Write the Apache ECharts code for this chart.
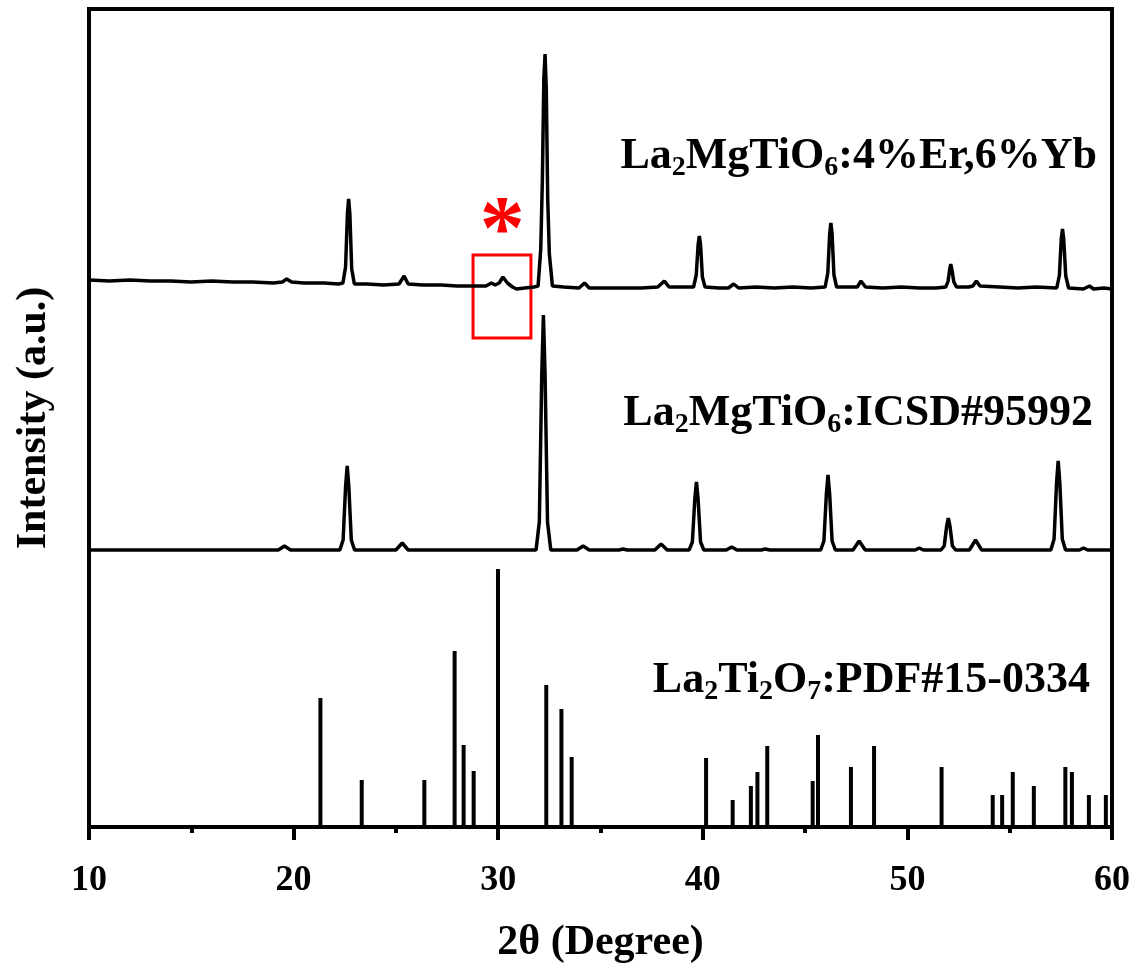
<!DOCTYPE html>
<html>
<head>
<meta charset="utf-8">
<script src="https://cdn.jsdelivr.net/npm/echarts@6/dist/echarts.min.js"></script>
<style>
  html, body { margin: 0; padding: 0; background: #fff; }
  #chart { width: 1139px; height: 970px; }
</style>
</head>
<body>
<div id="chart"></div>
<script>
// 2θ range of the x axis
const xMin = 10;
const xMax = 60;
const xStep = 10;

// measured pattern La2MgTiO6:4%Er,6%Yb  [2θ, intensity above its own offset]
const sampleOffset = 538;
const sample = [
  [10, 9], [11, 8], [12, 9], [13, 8], [14, 8], [15, 7], [16, 8], [17, 7], [18, 7], [19, 6],
  [19.45, 7], [19.66, 10], [19.9, 7], [20.5, 6], [21.5, 6], [22.2, 5],
  [22.41, 6], [22.54, 22], [22.63, 75], [22.69, 90], [22.75, 75], [22.84, 20], [22.97, 5],
  [23.6, 5], [24.4, 4], [25.15, 5], [25.4, 13], [25.6, 5], [26.3, 4], [27.2, 4], [28.0, 3],
  [28.8, 3], [29.4, 3], [29.67, 6], [29.85, 4], [30.05, 6], [30.23, 12], [30.45, 6], [30.7, 2],
  [30.9, 0], [31.3, 1], [31.75, 2],
  [31.95, 3], [32.08, 40], [32.16, 110], [32.23, 210], [32.29, 235], [32.35, 200], [32.42, 90], [32.5, 35], [32.65, 3],
  [33.2, 2], [33.95, 1], [34.22, 6], [34.45, 1], [35.3, 1], [36.2, 1], [37.0, 1], [37.8, 2],
  [38.12, 8], [38.35, 2],
  [39.55, 2], [39.68, 14], [39.77, 44], [39.83, 53], [39.89, 44], [39.98, 12], [40.11, 2],
  [40.8, 1], [41.25, 1], [41.51, 5], [41.75, 1], [42.6, 2], [43.5, 1], [44.4, 2], [45.3, 1], [45.98, 2],
  [46.11, 16], [46.2, 55], [46.26, 66], [46.32, 55], [46.41, 14], [46.54, 2],
  [47.3, 2], [47.55, 2], [47.73, 8], [47.95, 2], [48.8, 1], [49.7, 2], [50.6, 1], [51.4, 1], [51.88, 2],
  [51.99, 8], [52.07, 20], [52.12, 25], [52.17, 20], [52.27, 7], [52.4, 2],
  [53.0, 2], [53.2, 3], [53.37, 8], [53.55, 3], [54.5, 2], [55.4, 1], [56.3, 2], [57.3, 1],
  [57.43, 14], [57.52, 50], [57.58, 60], [57.64, 50], [57.74, 13], [57.88, 1],
  [58.6, 0], [58.9, 3], [59.1, 0], [59.6, 1], [60, 0]
];

// reference La2MgTiO6 ICSD#95992
const icsdOffset = 277;
const icsd = [
  [10, 0],
  [19.25, 0], [19.55, 4], [19.85, 0],
  [22.26, 0], [22.42, 10], [22.54, 63], [22.62, 84], [22.7, 63], [22.82, 10], [22.98, 0],
  [25.0, 0], [25.31, 7], [25.6, 0],
  [31.85, 0], [32.01, 28], [32.13, 176], [32.21, 235], [32.29, 176], [32.41, 28], [32.57, 0],
  [33.85, 0], [34.15, 4], [34.45, 0],
  [35.9, 0], [36.1, 1], [36.3, 0],
  [37.66, 0], [37.96, 6], [38.26, 0],
  [39.33, 0], [39.49, 8], [39.61, 51], [39.69, 68], [39.77, 51], [39.89, 8], [40.05, 0],
  [41.15, 0], [41.41, 3], [41.67, 0],
  [42.85, 0], [43.06, 1], [43.27, 0],
  [45.76, 0], [45.92, 9], [46.04, 56], [46.12, 75], [46.2, 56], [46.32, 9], [46.48, 0],
  [47.34, 0], [47.64, 9], [47.94, 0],
  [50.38, 0], [50.58, 2], [50.78, 0],
  [51.64, 0], [51.8, 4], [51.92, 24], [52.0, 32], [52.08, 24], [52.2, 4], [52.36, 0],
  [53.03, 0], [53.33, 10], [53.63, 0],
  [57.01, 0], [57.17, 11], [57.29, 67], [57.37, 89], [57.45, 67], [57.57, 11], [57.73, 0],
  [58.41, 0], [58.61, 2], [58.81, 0],
  [60, 0]
];

// La2Ti2O7 PDF#15-0334 stick pattern
const pdfPos = [21.31, 23.33, 26.39, 27.87, 28.31, 28.80, 29.99, 32.35, 33.09, 33.59,
  40.16, 41.46, 42.35, 42.67, 43.15, 45.37, 45.63, 47.24, 48.37, 51.67,
  54.17, 54.63, 55.15, 56.18, 57.72, 58.04, 58.87, 59.70];
const pdfInt = [129, 47, 47, 176, 82, 56, 258, 142, 118, 70,
  69, 27, 41, 55, 81, 46, 92, 60, 81, 60,
  32, 32, 55, 41, 60, 55, 32, 32];

// impurity marker (box range in 2θ and intensity)
const impurityBox = [[28.77, 489], [31.6, 572]];
const impurityStar = [30.2, 592];

const serif = "'Liberation Serif', 'Times New Roman', serif";

const chart = echarts.init(document.getElementById("chart"));

const labelRich = {
  m: { fontSize: 44, fontWeight: "bold", fontFamily: serif, color: "#000" },
  s: { fontSize: 28, fontWeight: "bold", fontFamily: serif, color: "#000", padding: [22, 0, 0, 0] }
};

function formulaLabel(text, x, y) {
  return {
    type: "text",
    x: x,
    y: y,
    z: 10,
    style: {
      text: text,
      rich: labelRich,
      align: "right",
      verticalAlign: "middle",
      fontSize: 44,
      fontWeight: "bold",
      fontFamily: serif,
      fill: "#000"
    }
  };
}

const option = {
  animation: false,
  backgroundColor: "#fff",
  grid: {
    left: 89,
    right: 27,
    top: 9,
    bottom: 143,
    show: true,
    borderColor: "#000",
    borderWidth: 4,
    backgroundColor: "transparent"
  },
  xAxis: {
    type: "value",
    min: xMin,
    max: xMax,
    interval: xStep,
    name: "2θ (Degree)",
    nameLocation: "middle",
    nameGap: 95,
    nameTextStyle: { fontSize: 42, fontWeight: "bold", fontFamily: serif, color: "#000" },
    axisLine: { show: true, lineStyle: { color: "#000", width: 4 } },
    axisTick: { show: true, inside: false, length: 13, lineStyle: { color: "#000", width: 4 } },
    minorTick: { show: true, splitNumber: 2, length: 6, lineStyle: { color: "#000", width: 4 } },
    axisLabel: { fontSize: 36, fontWeight: "bold", fontFamily: serif, color: "#000", margin: 36 },
    splitLine: { show: false }
  },
  yAxis: {
    type: "value",
    min: 0,
    max: 818,
    name: "Intensity (a.u.)",
    nameLocation: "middle",
    nameRotate: 90,
    nameGap: 34,
    nameTextStyle: { fontSize: 42, fontWeight: "bold", fontFamily: serif, color: "#000" },
    axisLine: { show: false },
    axisTick: { show: false },
    axisLabel: { show: false },
    splitLine: { show: false }
  },
  series: [
    {
      name: "La2Ti2O7 PDF#15-0334",
      type: "bar",
      barWidth: 4,
      itemStyle: { color: "#000" },
      data: pdfPos.map((x, i) => [x, pdfInt[i]])
    },
    {
      name: "La2MgTiO6 ICSD#95992",
      type: "line",
      showSymbol: false,
      lineStyle: { color: "#000", width: 3.5 },
      data: icsd.map((p) => [p[0], p[1] + icsdOffset])
    },
    {
      name: "La2MgTiO6:4%Er,6%Yb",
      type: "line",
      showSymbol: false,
      lineStyle: { color: "#000", width: 3.5 },
      data: sample.map((p) => [p[0], p[1] + sampleOffset]),
      markArea: {
        silent: true,
        itemStyle: { color: "rgba(0,0,0,0)", borderColor: "#ff0000", borderWidth: 3 },
        label: { show: false },
        data: [[{ coord: impurityBox[0] }, { coord: impurityBox[1] }]]
      },
      markPoint: {
        silent: true,
        symbol: "circle",
        symbolSize: 1,
        itemStyle: { color: "rgba(0,0,0,0)" },
        label: {
          show: true,
          position: "inside",
          formatter: "*",
          color: "#ff0000",
          fontSize: 90,
          fontWeight: "bold",
          fontFamily: serif
        },
        data: [{ coord: impurityStar }]
      }
    }
  ],
  graphic: [
    formulaLabel("{m|La}{s|2}{m|MgTiO}{s|6}{m|:4%Er,6%Yb}", 1097, 157),
    formulaLabel("{m|La}{s|2}{m|MgTiO}{s|6}{m|:ICSD#95992}", 1093, 414),
    formulaLabel("{m|La}{s|2}{m|Ti}{s|2}{m|O}{s|7}{m|:PDF#15-0334}", 1090, 681)
  ]
};

chart.setOption(option);
</script>
</body>
</html>
